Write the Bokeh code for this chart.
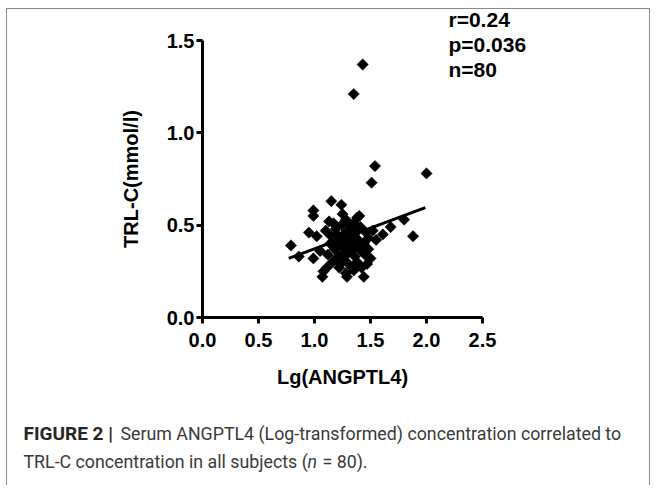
from bokeh.plotting import figure
from bokeh.models import Range1d, FixedTicker, PrintfTickFormatter, Label, ColumnDataSource
from bokeh.embed import file_html
from bokeh.resources import INLINE
import numpy as np

# Lg(ANGPTL4) values
x_vals = [1.43, 1.35, 1.54, 1.51, 2.00, 1.88, 1.80, 1.68, 1.61, 1.48,
          0.79, 0.86, 0.95, 0.99, 1.02, 0.99, 0.99, 1.15, 1.24, 1.38,
          1.07, 1.29, 1.44, 1.50, 1.43, 1.11, 1.08, 1.35, 1.17, 1.20,
          1.12, 1.14, 1.16, 1.18, 1.19, 1.21, 1.22, 1.23, 1.24, 1.25,
          1.26, 1.27, 1.28, 1.29, 1.30, 1.31, 1.32, 1.33, 1.34, 1.35,
          1.36, 1.37, 1.38, 1.39, 1.40, 1.41, 1.42, 1.44, 1.45, 1.46,
          1.28, 1.22, 1.33, 1.25, 1.40, 1.18, 1.30, 1.36, 1.05, 1.10,
          1.47, 1.52, 1.55, 1.13, 1.48, 1.26, 1.32, 1.20, 1.38, 1.15]
# TRL-C values (mmol/l)
y_vals = [1.37, 1.21, 0.82, 0.73, 0.78, 0.44, 0.53, 0.49, 0.45, 0.43,
          0.39, 0.33, 0.46, 0.32, 0.44, 0.58, 0.55, 0.63, 0.61, 0.54,
          0.22, 0.22, 0.22, 0.32, 0.36, 0.27, 0.25, 0.255, 0.51, 0.45,
          0.34, 0.40, 0.30, 0.37, 0.48, 0.33, 0.42, 0.29, 0.50, 0.38,
          0.45, 0.31, 0.53, 0.41, 0.35, 0.48, 0.28, 0.44, 0.39, 0.51,
          0.33, 0.46, 0.30, 0.42, 0.37, 0.49, 0.27, 0.40, 0.34, 0.46,
          0.24, 0.27, 0.50, 0.56, 0.55, 0.42, 0.45, 0.38, 0.36, 0.47,
          0.29, 0.47, 0.42, 0.52, 0.37, 0.35, 0.36, 0.38, 0.48, 0.44]

# regression line end points
fit_x = [0.77, 1.99]
fit_y = [0.32, 0.595]

x_ticks = [0.0, 0.5, 1.0, 1.5, 2.0, 2.5]
y_ticks = [0.0, 0.5, 1.0, 1.5]

stats_text = ["r=0.24", "p=0.036", "n=80"]
caption_bold = "FIGURE 2 |"
caption_line1 = "Serum ANGPTL4 (Log-transformed) concentration correlated to"
caption_line2a = "TRL-C concentration in all subjects ("
caption_italic = "n"
caption_line2b = "= 80)."

W, H = 644, 477
p = figure(width=W, height=H, output_backend="svg", toolbar_location=None,
           x_range=Range1d(0, 2.5), y_range=Range1d(0, 1.5),
           min_border_left=195, min_border_right=169,
           min_border_top=31, min_border_bottom=169)
p.styles = {"margin-left": "6px", "margin-top": "8px",
            "border-top": "1px solid #8a8a8a", "border-left": "1px solid #8a8a8a",
            "border-right": "1px solid #8a8a8a"}
p.outline_line_color = None
p.xgrid.visible = False
p.ygrid.visible = False
p.background_fill_color = "white"
p.border_fill_color = "white"

font = "Liberation Sans"
for ax in (p.xaxis[0], p.yaxis[0]):
    ax.axis_line_width = 3
    ax.axis_line_color = "black"
    ax.major_tick_line_width = 3
    ax.major_tick_line_color = "black"
    ax.major_tick_out = 6
    ax.major_tick_in = 0
    ax.minor_tick_line_color = None
    ax.major_label_text_font = font
    ax.major_label_text_font_style = "bold"
    ax.major_label_text_font_size = "20px"
    ax.major_label_text_color = "black"
    ax.axis_label_text_font = font
    ax.axis_label_text_font_style = "bold"
    ax.axis_label_text_font_size = "20px"
    ax.axis_label_text_color = "black"
    ax.formatter = PrintfTickFormatter(format="%.1f")

p.xaxis[0].ticker = FixedTicker(ticks=x_ticks)
p.yaxis[0].ticker = FixedTicker(ticks=y_ticks)
p.xaxis[0].axis_label = "Lg(ANGPTL4)"
p.yaxis[0].axis_label = "TRL-C(mmol/l)"
p.xaxis[0].major_label_standoff = 9
p.yaxis[0].major_label_standoff = 2
p.xaxis[0].axis_label_standoff = 16
p.yaxis[0].axis_label_standoff = 22

src = ColumnDataSource(dict(x=x_vals, y=y_vals))
p.scatter("x", "y", source=src, marker="square", size=8, angle=np.pi / 4,
          fill_color="black", line_color="black", line_width=0.5)
p.line(fit_x, fit_y, line_color="black", line_width=3)

# Labels live in side panels (canvas units) so they are not clipped to the frame;
# they are spread over panels so that no panel outgrows its min_border.
def lab(x, y, t, side, fnt, size, style, color):
    p.add_layout(Label(x=x, y=y, x_units="canvas", y_units="canvas", text=t,
                       text_font=fnt, text_font_style=style,
                       text_font_size=size, text_color=color,
                       text_baseline="middle"), side)

sx = 440
sy = [9, 34, 59]
stat_sides = ["right", "right", "above"]
for t, yy, sd in zip(stats_text, sy, stat_sides):
    lab(sx, yy, t, sd, font, "21px", "bold", "black")

cap_font = "Roboto"
cap_col = "#3a3a3a"
cap_size = "17.8px"
lab(15, 423, caption_bold, "left", cap_font, "19px", "bold", "#262626")
lab(112, 423, caption_line1, "below", cap_font, cap_size, "normal", cap_col)
lab(15, 451, caption_line2a, "below", cap_font, cap_size, "normal", cap_col)
lab(299, 451, caption_italic, "left", cap_font, cap_size, "italic", cap_col)
lab(314, 451, caption_line2b, "below", cap_font, cap_size, "normal", cap_col)

open("out.html", "w").write(file_html(p, INLINE))
